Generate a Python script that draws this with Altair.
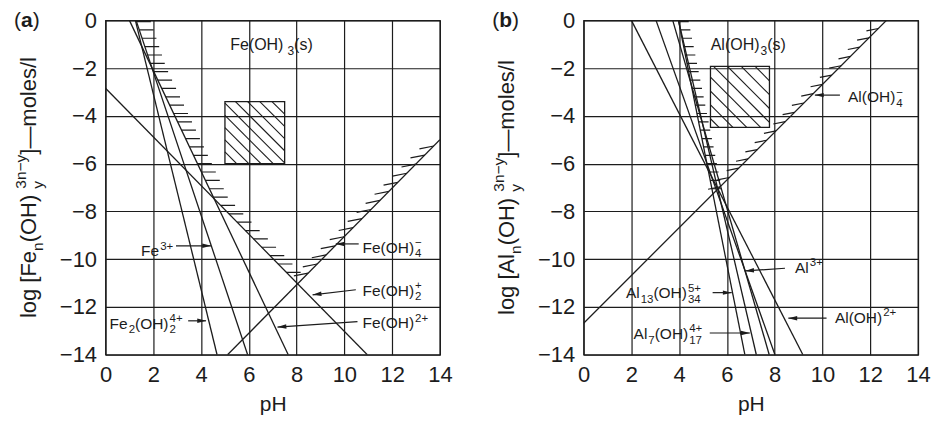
import math
import altair as alt
import numpy as np
import pandas as pd

PLOT = 335
PX = PLOT / 14.0
INK = "#1c1c1c"
FONT = "Liberation Sans"

# ---------------- Panel (a): Fe(III) ----------------
fe_species = ["Fe2(OH)2 4+", "Fe 3+", "Fe(OH) 2+", "Fe(OH)2 +", "Fe(OH)4 -"]
fe_ph_start = [1.25, 1.28, 1.00, 0.00, 5.11]
fe_log_start = [0.0, 0.0, 0.0, -2.84, -14.0]
fe_ph_end = [4.67, 5.95, 7.65, 10.96, 14.0]
fe_log_end = [-14.0, -14.0, -14.0, -14.0, -5.0]

fe_bound_ph = [1.28, 1.94, 4.55, 8.04, 14.0]
fe_bound_log = [0.0, -1.98, -7.47, -11.03, -5.0]
fe_vertex = 3

fe_box_ph = [5.0, 7.5]
fe_box_log = [-6.0, -3.4]

fe_texts = [
    ([("n", "Fe(OH)"), ("gap", 3), ("sub", "3"), ("n", "(s)")], 5.22, -1.25, 16),
    ([("n", "Fe"), ("sup", "3+")], 1.49, -9.88, 15.5),
    ([("n", "Fe"), ("sub", "2"), ("n", "(OH)"), ("ss", "2", "4+")], 0.17, -12.91, 15.5),
    ([("n", "Fe(OH)"), ("ss", "4", "\u2212")], 10.76, -9.72, 15.5),
    ([("n", "Fe(OH)"), ("ss", "2", "+")], 10.76, -11.53, 15.5),
    ([("n", "Fe(OH)"), ("sup", "2+")], 10.76, -12.90, 15.5),
]
fe_arrow_from_ph = [2.95, 3.46, 10.60, 10.48, 10.55]
fe_arrow_from_log = [-9.44, -12.58, -9.36, -11.28, -12.61]
fe_arrow_to_ph = [4.42, 4.21, 9.64, 8.67, 7.20]
fe_arrow_to_log = [-9.44, -12.58, -9.36, -11.49, -12.84]

fe_ytitle = [("n", "log [Fe"), ("sub", "n"), ("n", " (OH)"), ("ss", "y", "3n\u2212y"), ("n", "]\u2014moles/l")]

# ---------------- Panel (b): Al(III) ----------------
al_species = ["Al(OH) 2+", "Al 3+", "Al (other)", "Al7(OH)17 4+", "Al13(OH)34 5+", "Al(OH)4 -"]
al_ph_start = [2.00, 3.03, 3.73, 3.97, 3.97, 0.00]
al_log_start = [0.0, 0.0, 0.0, 0.0, 0.0, -12.68]
al_ph_end = [9.18, 8.01, 7.77, 7.23, 6.75, 12.68]
al_log_end = [-14.0, -14.0, -14.0, -14.0, -14.0, 0.0]

al_bound_ph = [3.97, 5.41, 12.68]
al_bound_log = [0.0, -7.27, 0.0]
al_vertex = 1

al_box_ph = [5.31, 7.78]
al_box_log = [-4.48, -1.93]

al_texts = [
    ([("n", "Al(OH)"), ("sub", "3"), ("n", "(s)")], 5.32, -1.25, 16),
    ([("n", "Al(OH)"), ("ss", "4", "\u2212")], 11.07, -3.43, 15.5),
    ([("n", "Al"), ("sup", "3+")], 8.85, -10.56, 15.5),
    ([("n", "Al"), ("sub", "13"), ("n", "(OH)"), ("ss", "34", "5+")], 1.77, -11.63, 15.5),
    ([("n", "Al(OH)"), ("sup", "2+")], 10.52, -12.67, 15.5),
    ([("n", "Al"), ("sub", "7"), ("n", "(OH)"), ("ss", "17", "4+")], 2.09, -13.34, 15.5),
]
al_arrow_from_ph = [10.73, 8.43, 5.40, 10.17, 5.28]
al_arrow_from_log = [-3.13, -10.38, -11.40, -12.47, -13.09]
al_arrow_to_ph = [9.68, 6.76, 6.20, 8.57, 6.96]
al_arrow_to_log = [-3.13, -10.49, -11.40, -12.47, -13.09]

al_ytitle = [("n", "log [Al"), ("sub", "n"), ("n", " (OH)"), ("ss", "y", "3n\u2212y"), ("n", "]\u2014moles/l")]

ph_ticks = list(range(0, 15, 2))
log_ticks = list(range(-14, 1, 2))

# ---------------- helpers ----------------
W = {'F': 611, 'e': 556, '(': 333, ')': 333, 'O': 778, 'H': 722, 'A': 667, 'l': 222,
     's': 500, 'n': 556, 'y': 500, '+': 584, '\u2212': 584, ' ': 278, '[': 278, ']': 278,
     '\u2014': 1000, 'm': 833, 'o': 556, 'g': 556, '/': 278, 'a': 556, 'b': 611}


def tw(s, size):
    return sum(W.get(c, 556) for c in s) / 1000.0 * size


def compose(parts, size, small, sub_dy, sup_dy, gap=0.0):
    out = []
    x = 0.0
    for p in parts:
        k = p[0]
        if k in ("n", "b"):
            out.append((p[1], x, 0.0, size, k))
            x += tw(p[1], size)
        elif k == "gap":
            x += p[1]
        elif k == "sub":
            x += gap
            out.append((p[1], x, sub_dy, small, "n"))
            x += tw(p[1], small)
        elif k == "sup":
            x += gap
            out.append((p[1], x, sup_dy, small, "n"))
            x += tw(p[1], small)
        elif k == "ss":
            x += gap
            out.append((p[1], x, sub_dy, small, "n"))
            out.append((p[2], x, sup_dy, small, "n"))
            x += max(tw(p[1], small), tw(p[2], small))
    return out, x


def hatch_box(ph, lg, step, start_off):
    x0, x1 = ph
    y0, y1 = lg
    rows = []
    k = x1 + y1 - start_off
    while k > x0 + y0:
        xa = max(x0, k - y1)
        xb = min(x1, k - y0)
        if xb > xa + 1e-6:
            rows.append(dict(x=xa, y=k - xa, x2=xb, y2=k - xb))
        k -= step
    return rows


def interp_x(y, xs, ys):
    for i in range(len(xs) - 1):
        ya, yb = ys[i], ys[i + 1]
        if min(ya, yb) - 1e-9 <= y <= max(ya, yb) + 1e-9 and ya != yb:
            t = (y - ya) / (yb - ya)
            return xs[i] + t * (xs[i + 1] - xs[i])
    return None


def boundary_hatch(bx, by, vertex, lstep, llen, rstep, rlen, rtilt, roff):
    rows = []
    lx, ly = bx[:vertex + 1], by[:vertex + 1]
    y = ly[0] - 0.05
    while y > ly[-1] + 0.15:
        x = interp_x(y, lx, ly)
        if x is not None:
            rows.append(dict(x=x, y=y, x2=x + llen, y2=y))
        y -= lstep
    rx, ry = bx[vertex:], by[vertex:]
    y = ry[0] + roff
    while y < ry[-1] - 0.05:
        x = interp_x(y, rx, ry)
        if x is not None:
            rows.append(dict(x=x, y=y, x2=x - rlen, y2=y - rtilt))
        y += rstep
    return rows


ARROW = "M0,-1L0.5,1L-0.5,1Z"

xscale = alt.Scale(domain=[0, 14], nice=False, zero=False)
yscale = alt.Scale(domain=[-14, 0], nice=False, zero=False)
xaxis = alt.Axis(values=ph_ticks, title="pH", grid=True, ticks=False, domain=False,
                 labelPadding=10, titlePadding=8, labelFlush=False, labelOverlap=False)
yaxis = alt.Axis(values=log_ticks, title=None, grid=True, ticks=False, domain=False,
                 labelPadding=9, labelFlush=False, labelOverlap=False)


def enc_xy():
    return dict(x=alt.X("x:Q", scale=xscale, axis=xaxis),
                y=alt.Y("y:Q", scale=yscale, axis=yaxis))


def panel(tag, species, ps, ls, pe, le, bpx, bly, vertex, box_ph, box_log, box_step,
          texts, a_fp, a_fl, a_tp, a_tl, ytitle, hcfg):
    lines = pd.DataFrame(dict(name=species, x=ps, y=ls, x2=pe, y2=le))
    hatch = pd.DataFrame(boundary_hatch(bpx, bly, vertex, *hcfg))
    box = pd.DataFrame(dict(x=[box_ph[0]], x2=[box_ph[1]], y=[box_log[0]], y2=[box_log[1]]))
    boxh = pd.DataFrame(hatch_box(box_ph, box_log, box_step, 0.02))

    # arrows
    arr = pd.DataFrame(dict(x=a_fp, y=a_fl, x2=a_tp, y2=a_tl))
    heads = []
    for fx, fy, tx, ty in zip(a_fp, a_fl, a_tp, a_tl):
        dxp, dyp = (tx - fx), -(ty - fy)
        L = math.hypot(dxp, dyp)
        ang = math.degrees(math.atan2(dxp, -dyp)) % 360
        back = 4.4 / PX
        heads.append(dict(x=tx - back * dxp / L, y=ty + back * dyp / L, ang=ang))
    heads = pd.DataFrame(heads)

    # horizontal labels
    trows = []
    for parts, ax, ay, size in texts:
        small = 11.5 if size < 16 else 12
        pieces, _ = compose(parts, size, small, 0.30 * size, -0.42 * size, gap=1.0)
        for txt, dx, dy, sz, kind in pieces:
            trows.append(dict(x=ax + dx / PX, y=ay - dy / PX, t=txt, s=sz))
    # panel tag "(a)" / "(b)"
    tagp, _ = compose([("n", "("), ("b", tag), ("n", ")")], 21, 21, 0, 0)
    brows = []
    for txt, dx, dy, sz, kind in tagp:
        row = dict(x=-91.6 / PX + dx / PX, y=-7.0 / PX, t=txt, s=sz)
        (brows if kind == "b" else trows).append(row)
    tdf = pd.DataFrame(trows)
    bdf = pd.DataFrame(brows)

    # rotated y title
    pieces, total = compose(ytitle, 22, 15.5, 7.0, -10.0)
    base_x = -70.0 / PX
    y_start = -7.0 - total / 2 / PX
    vrows = [dict(x=base_x + dy / PX, y=y_start + dx / PX, t=txt, s=sz)
             for txt, dx, dy, sz, kind in pieces]
    vdf = pd.DataFrame(vrows)

    e = enc_xy()
    rule_kw = dict(color=INK, strokeWidth=1.3, clip=True)
    l_lines = alt.Chart(lines).mark_rule(**rule_kw).encode(
        x=e["x"], y=e["y"], x2="x2:Q", y2="y2:Q")
    l_hatch = alt.Chart(hatch).mark_rule(color=INK, strokeWidth=1.2, clip=True).encode(
        x=e["x"], y=e["y"], x2="x2:Q", y2="y2:Q")
    l_box = alt.Chart(box).mark_rect(fillOpacity=0, stroke=INK, strokeWidth=1.3).encode(
        x=e["x"], y=e["y"], x2="x2:Q", y2="y2:Q")
    l_boxh = alt.Chart(boxh).mark_rule(color=INK, strokeWidth=1.1).encode(
        x=e["x"], y=e["y"], x2="x2:Q", y2="y2:Q")
    l_arr = alt.Chart(arr).mark_rule(color=INK, strokeWidth=1.2).encode(
        x=e["x"], y=e["y"], x2="x2:Q", y2="y2:Q")
    l_head = alt.Chart(heads).mark_point(shape=ARROW, filled=True, fill=INK, size=80,
                                         strokeWidth=0, opacity=1).encode(
        x=e["x"], y=e["y"], angle=alt.Angle("ang:Q", scale=None))
    txt_kw = dict(font=FONT, color=INK, align="left", baseline="alphabetic")
    l_txt = alt.Chart(tdf).mark_text(**txt_kw).encode(
        x=e["x"], y=e["y"], text="t:N", size=alt.Size("s:Q", scale=None, legend=None))
    l_bold = alt.Chart(bdf).mark_text(fontWeight="bold", **txt_kw).encode(
        x=e["x"], y=e["y"], text="t:N", size=alt.Size("s:Q", scale=None, legend=None))
    l_vt = alt.Chart(vdf).mark_text(angle=270, **txt_kw).encode(
        x=e["x"], y=e["y"], text="t:N", size=alt.Size("s:Q", scale=None, legend=None))
    return alt.layer(l_lines, l_hatch, l_box, l_boxh, l_arr, l_head, l_txt, l_bold, l_vt
                     ).properties(width=PLOT, height=PLOT)


pa = panel("a", fe_species, fe_ph_start, fe_log_start, fe_ph_end, fe_log_end,
           fe_bound_ph, fe_bound_log, fe_vertex, fe_box_ph, fe_box_log, 0.51,
           fe_texts, fe_arrow_from_ph, fe_arrow_from_log, fe_arrow_to_ph, fe_arrow_to_log,
           fe_ytitle, (0.35, 0.6, 0.38, 0.6, 0.12, 0.45))
pb = panel("b", al_species, al_ph_start, al_log_start, al_ph_end, al_log_end,
           al_bound_ph, al_bound_log, al_vertex, al_box_ph, al_box_log, 0.58,
           al_texts, al_arrow_from_ph, al_arrow_from_log, al_arrow_to_ph, al_arrow_to_log,
           al_ytitle, (0.35, 0.42, 0.39, 0.5, 0.1, 0.3))

chart = alt.HConcatChart(hconcat=[pa, pb], spacing=144, bounds="flush").properties(
    padding={"left": 4.7, "top": 0, "right": 0, "bottom": 0}
).configure_view(stroke=INK, strokeWidth=1.3).configure_axis(
    gridColor=INK, gridWidth=1.2, gridOpacity=1,
    labelFont=FONT, labelFontSize=22, labelColor=INK,
    titleFont=FONT, titleFontSize=21, titleFontWeight="normal", titleColor=INK
)

chart.save("out.html", embed_options={"renderer": "svg", "actions": False})
